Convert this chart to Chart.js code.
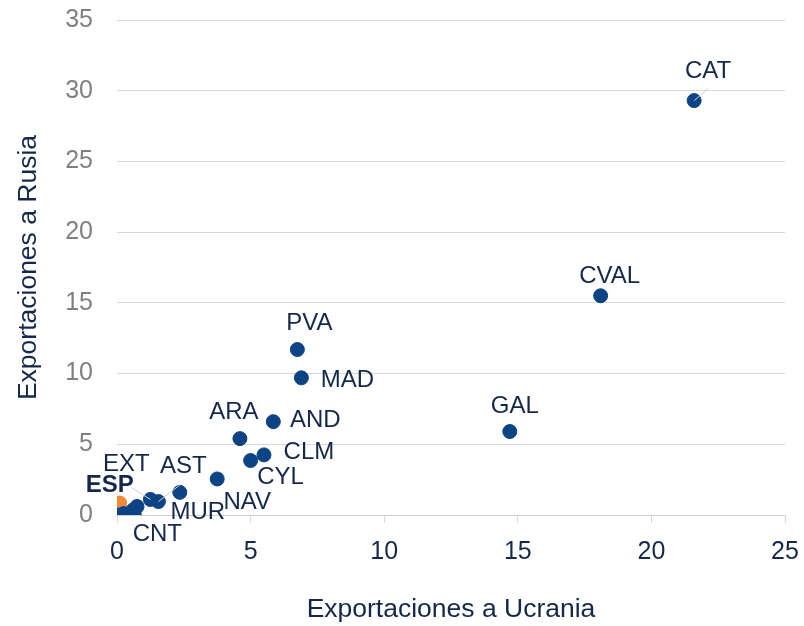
<!DOCTYPE html>
<html>
<head>
<meta charset="utf-8">
<script src="https://cdn.jsdelivr.net/npm/chart.js@4.4.1/dist/chart.umd.min.js"></script>
<style>
  html, body { margin: 0; padding: 0; background: #fff; }
  #wrap { width: 804px; height: 626px; }
</style>
</head>
<body>
<div id="wrap"><canvas id="chart" width="804" height="626"></canvas></div>
<script>
'use strict';

// regions (labelled ones first), exports to Ukraine (x) and to Russia (y)
const regions = ['CAT', 'CVAL', 'GAL', 'PVA', 'MAD', 'AND', 'ARA', 'CLM', 'CYL', 'NAV',
                 'MUR', 'AST', 'EXT', 'CNT', '', '', '', ''];
const ucrania = [21.6, 18.1, 14.7, 6.75, 6.9, 5.85, 4.6, 5.5, 5.0, 3.75,
                 2.35, 1.55, 1.25, 0.65, 0.0, 0.25, 0.6, 0.75];
const rusia   = [29.3, 15.5, 5.9, 11.7, 9.7, 6.6, 5.4, 4.25, 3.85, 2.55,
                 1.6, 0.95, 1.1, 0.0, 0.0, 0.1, 0.35, 0.6];

// national total
const espLabel = 'ESP';
const espX = [0.1];
const espY = [0.85];

const xTicks = [0, 5, 10, 15, 20, 25];
const yTicks = [0, 5, 10, 15, 20, 25, 30, 35];

// label placement (pixels from the point), optional leader line start
const labelPos = {
  CAT:  { dx: 14, dy: -29, lx: 14, ly: -12 },
  CVAL: { dx: 9, dy: -19 },
  GAL:  { dx: 5, dy: -25 },
  PVA:  { dx: 12, dy: -26 },
  MAD:  { dx: 46, dy: 3 },
  AND:  { dx: 42, dy: -1 },
  ARA:  { dx: -6, dy: -26 },
  CLM:  { dx: 45, dy: -3 },
  CYL:  { dx: 30, dy: 17 },
  NAV:  { dx: 30, dy: 23 },
  MUR:  { dx: 18, dy: 20 },
  AST:  { dx: 25, dy: -35, lx: 22, ly: -17 },
  EXT:  { dx: -24, dy: -35, lx: -19, ly: -12 },
  CNT:  { dx: 23, dy: 19 },
  ESP:  { dx: -10, dy: -18 }
};

const FONT = 'Arial, "Liberation Sans", sans-serif';
const NAVY = '#0b4384';
const TEXT = '#14284b';

const pointLabels = {
  id: 'pointLabels',
  afterDatasetsDraw(chart) {
    const ctx = chart.ctx;
    ctx.save();
    chart.data.datasets.forEach(function (ds, di) {
      const meta = chart.getDatasetMeta(di);
      meta.data.forEach(function (pt, i) {
        const name = ds.names[i];
        const p = labelPos[name];
        if (!name || !p) return;
        if (p.lx !== undefined) {
          ctx.strokeStyle = '#d0d0d0';
          ctx.lineWidth = 1;
          ctx.beginPath();
          ctx.moveTo(pt.x + p.lx, pt.y + p.ly);
          ctx.lineTo(pt.x, pt.y);
          ctx.stroke();
        }
        ctx.fillStyle = TEXT;
        ctx.font = (name === espLabel ? 'bold ' : '') + '24px ' + FONT;
        ctx.textAlign = 'center';
        ctx.textBaseline = 'middle';
        ctx.fillText(name, pt.x + p.dx, pt.y + p.dy);
      });
    });
    ctx.restore();
  }
};

new Chart(document.getElementById('chart'), {
  type: 'scatter',
  data: {
    datasets: [
      {
        names: [espLabel],
        data: espX.map(function (x, i) { return { x: x, y: espY[i] }; }),
        backgroundColor: '#f08a35',
        borderColor: '#f08a35',
        pointRadius: 7,
        order: 2
      },
      {
        names: regions,
        data: ucrania.map(function (x, i) { return { x: x, y: rusia[i] }; }),
        backgroundColor: NAVY,
        borderColor: NAVY,
        pointRadius: 7,
        order: 1
      }
    ]
  },
  options: {
    responsive: false,
    animation: false,
    layout: { padding: { left: 13, right: 19, top: 20, bottom: 0 } },
    plugins: {
      legend: { display: false },
      tooltip: { enabled: false }
    },
    scales: {
      x: {
        type: 'linear',
        min: 0, max: 25,
        afterBuildTicks: function (axis) { axis.ticks = xTicks.map(function (v) { return { value: v }; }); },
        afterFit: function (axis) {
          axis.height = 111;
          axis.paddingLeft = 0;
          axis.paddingRight = 0;
        },
        grid: { drawOnChartArea: false, drawTicks: true, tickLength: 8, color: '#d9d9d9' },
        border: { display: true, color: '#d0d0d0' },
        ticks: { color: TEXT, font: { family: FONT, size: 25 }, padding: 14 },
        title: {
          display: true, text: 'Exportaciones a Ucrania', color: TEXT,
          font: { family: FONT, size: 26.5 }, padding: { top: 0, bottom: 0 }
        }
      },
      y: {
        type: 'linear',
        min: 0, max: 35,
        afterBuildTicks: function (axis) { axis.ticks = yTicks.map(function (v) { return { value: v }; }); },
        afterFit: function (axis) {
          axis.width = 104;
          axis.paddingTop = 0;
          axis.paddingBottom = 0;
        },
        grid: { drawTicks: false, color: '#d9d9d9' },
        border: { display: false },
        ticks: { color: '#808080', font: { family: FONT, size: 25 }, padding: 24 },
        title: {
          display: true, text: 'Exportaciones a Rusia', color: TEXT,
          font: { family: FONT, size: 26.5 }, padding: { top: 0, bottom: 0 }
        }
      }
    }
  },
  plugins: [pointLabels]
});
</script>
</body>
</html>
